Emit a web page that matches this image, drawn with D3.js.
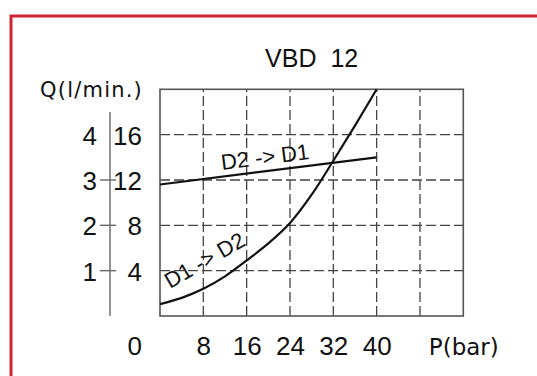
<!DOCTYPE html>
<html>
<head>
<meta charset="utf-8">
<script src="https://cdn.jsdelivr.net/npm/d3@7"></script>
<style>
  body { margin: 0; background: #fff; }
  svg { display: block; }
  .num { font-family: "Liberation Sans", Arial, sans-serif; font-size: 26px; fill: #111; }
  .lbl { font-family: "DejaVu Sans", sans-serif; font-size: 21px; fill: #111; }
</style>
</head>
<body>
<svg id="chart" width="537" height="376"></svg>
<script>
// data
const pressure = [0, 4, 8, 12, 16, 20, 24, 28, 32, 36, 40];
const flowD1toD2 = [1.05, 1.6, 2.4, 3.5, 4.9, 6.4, 8.2, 10.7, 13.7, 16.8, 20.0];
const pressureD2toD1 = [0, 40];
const flowD2toD1 = [11.6, 14.0];
const xTicks = [8, 16, 24, 32, 40];
const xGrid = [8, 16, 24, 32, 40, 48];
const yTicks = [4, 8, 12, 16];
const yTicksScaled = [1, 2, 3, 4];

const svg = d3.select("#chart");

// red frame of the sheet
svg.append("rect")
  .attr("x", 11).attr("y", 16)
  .attr("width", 560).attr("height", 400)
  .attr("fill", "none")
  .attr("stroke", "#cf2530")
  .attr("stroke-width", 3);

// scales
const x = d3.scaleLinear().domain([0, 56]).range([160, 463.3]);
const y = d3.scaleLinear().domain([0, 20]).range([316, 89.3]);

// dashed grid
svg.append("g")
  .selectAll("line")
  .data(xGrid)
  .enter().append("line")
    .attr("x1", d => x(d)).attr("x2", d => x(d))
    .attr("y1", y(0)).attr("y2", y(20))
    .attr("stroke", "#444").attr("stroke-width", 1.3)
    .attr("stroke-dasharray", "10,4");

svg.append("g")
  .selectAll("line")
  .data(yTicks)
  .enter().append("line")
    .attr("x1", x(0)).attr("x2", x(56))
    .attr("y1", d => y(d)).attr("y2", d => y(d))
    .attr("stroke", "#444").attr("stroke-width", 1.3)
    .attr("stroke-dasharray", "10,4");

// plot frame
svg.append("rect")
  .attr("x", x(0)).attr("y", y(20))
  .attr("width", x(56) - x(0)).attr("height", y(0) - y(20))
  .attr("fill", "none")
  .attr("stroke", "#555")
  .attr("stroke-width", 1.6);

// x tick labels
const xAxis = svg.append("g")
  .attr("transform", `translate(0,${y(0)})`)
  .call(d3.axisBottom(x).tickValues(xTicks.concat([56])).tickSize(0)
    .tickFormat(d => d === 56 ? "P(bar)" : d));
xAxis.select(".domain").remove();
xAxis.selectAll("text")
  .attr("class", d => d === 56 ? "lbl" : "num")
  .style("font-size", d => d === 56 ? "23px" : null)
  .attr("dy", null).attr("y", 39);

// right y column (l/min)
const yAxis = svg.append("g")
  .attr("transform", `translate(${x(0)},0)`)
  .call(d3.axisLeft(y).tickValues(yTicks).tickSize(0).tickPadding(18));
yAxis.select(".domain").remove();
yAxis.selectAll("text").attr("class", "num").attr("dy", "0.36em");

// left y column
const yAxis2 = svg.append("g")
  .attr("transform", "translate(110,0)")
  .call(d3.axisLeft(y).tickValues(yTicks).tickSize(0).tickPadding(13)
    .tickFormat((d, i) => yTicksScaled[i]));
yAxis2.select(".domain").remove();
yAxis2.selectAll("text").attr("class", "num").attr("dy", "0.36em");

// separator line with small ticks
svg.append("line")
  .attr("x1", 110).attr("x2", 110)
  .attr("y1", y(0)).attr("y2", y(18))
  .attr("stroke", "#666").attr("stroke-width", 1.4);
svg.append("g")
  .selectAll("line")
  .data(yTicks.filter(d => d < 16))
  .enter().append("line")
    .attr("x1", 100).attr("x2", 116)
    .attr("y1", d => y(d)).attr("y2", d => y(d))
    .attr("stroke", "#666").attr("stroke-width", 1.4);

// origin label
svg.append("text")
  .attr("class", "num")
  .attr("x", 142).attr("y", 355)
  .attr("text-anchor", "end")
  .text("0");

// axis titles
svg.append("text")
  .attr("class", "lbl")
  .attr("x", 143).attr("y", 97)
  .attr("text-anchor", "end")
  .attr("letter-spacing", 1.2)
  .text("Q(l/min.)");

svg.append("text")
  .attr("class", "num")
  .attr("x", (x(0) + x(56)) / 2).attr("y", 66.5)
  .attr("text-anchor", "middle")
  .style("font-size", "25px")
  .style("white-space", "pre")
  .text("VBD  12");

// curves
const line = d3.line()
  .x(d => x(d[0]))
  .y(d => y(d[1]))
  .curve(d3.curveCatmullRom);

svg.append("path")
  .datum(d3.zip(pressure, flowD1toD2))
  .attr("d", line)
  .attr("fill", "none")
  .attr("stroke", "#111")
  .attr("stroke-width", 2.2);

svg.append("path")
  .datum(d3.zip(pressureD2toD1, flowD2toD1))
  .attr("d", line)
  .attr("fill", "none")
  .attr("stroke", "#111")
  .attr("stroke-width", 2.2);

// curve labels
const ang = Math.atan2(y(flowD2toD1[0]) - y(flowD2toD1[1]), x(pressureD2toD1[1]) - x(pressureD2toD1[0])) * 180 / Math.PI;
svg.append("text")
  .attr("class", "num")
  .style("font-size", "22px")
  .attr("transform", `translate(222,170) rotate(${-ang})`)
  .text("D2 -> D1");

svg.append("text")
  .attr("class", "num")
  .style("font-size", "22px")
  .attr("transform", "translate(170,289) rotate(-30)")
  .text("D1 -> D2");
</script>
</body>
</html>
